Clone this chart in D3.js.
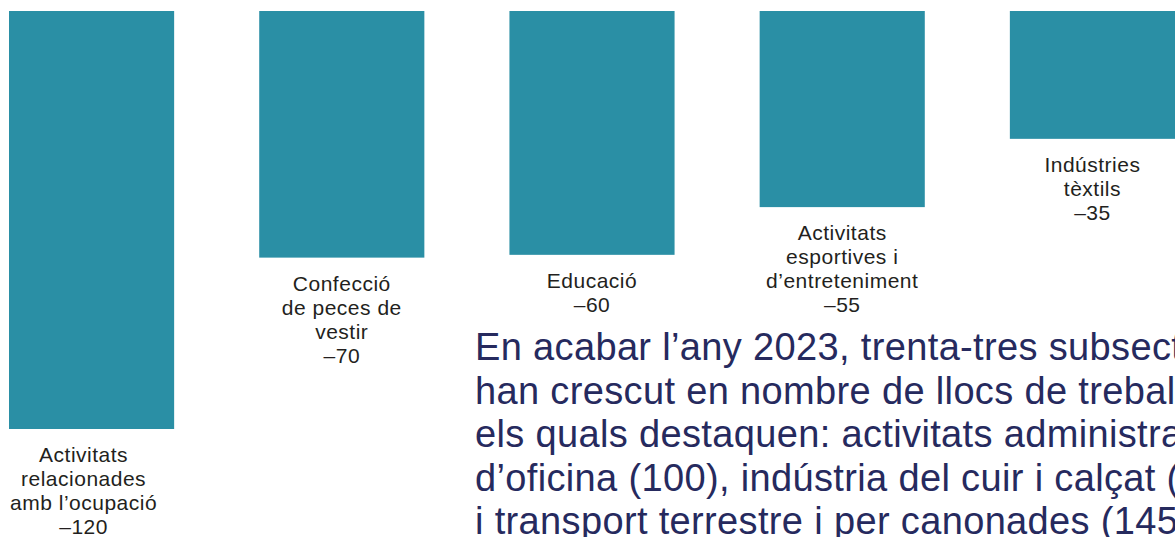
<!DOCTYPE html>
<html>
<head>
<meta charset="utf-8" />
<title>Subsectors</title>
<style>
    body { margin: 0; background: #fff; overflow: hidden; }
    svg { display: block; }
    .lbl { font-family: "Liberation Sans", Arial, sans-serif; font-size: 21px; letter-spacing: 0.5px; fill: #231f20; }
    .note { font-family: "Liberation Sans", Arial, sans-serif; font-size: 38px; letter-spacing: 0.35px; fill: #262a5e; }
</style>
</head>
<body>
<div id="container"></div>
<script src="https://cdn.jsdelivr.net/npm/d3@7"></script>
<script>
    // subsectors que han perdut llocs de treball
    const categories = ['relacionades', 'confeccio', 'educacio', 'esportives', 'textils']
    const labelLines = [
        ['Activitats', 'relacionades', 'amb l’ocupació'],
        ['Confecció', 'de peces de', 'vestir'],
        ['Educació'],
        ['Activitats', 'esportives i', 'd’entreteniment'],
        ['Indústries', 'tèxtils']
    ]
    // longitud de cada barra, llegida del dibuix
    const barValues = [120, 70.8, 70, 56.3, 36.7]
    // xifra impresa sota cada barra
    const labelValues = [-120, -70, -60, -55, -35]
    const noteLines = [
        'En acabar l’any 2023, trenta-tres subsectors',
        'han crescut en nombre de llocs de treball, entre',
        'els quals destaquen: activitats administratives',
        'd’oficina (100), indústria del cuir i calçat (',
        'i transport terrestre i per canonades (145)'
    ]

    const width = 1175
    const height = 537

    let svg = d3.select('#container').append('svg').attr('width', width).attr('height', height)

    let xScale = d3.scaleBand().domain(categories).range([9, 1175]).paddingInner(0.34).paddingOuter(0)
    let yScale = d3.scaleLinear().domain([0, 120]).range([11, 429])

    svg.selectAll('rect.bar').data(barValues).enter().append('rect')
        .attr('class', 'bar')
        .attr('x', (d, i) => xScale(categories[i]))
        .attr('y', yScale(0))
        .attr('width', xScale.bandwidth())
        .attr('height', d => yScale(d) - yScale(0))
        .attr('fill', '#2a8fa5')

    const fmt = v => (v < 0 ? '–' : '') + Math.abs(v)

    let labels = svg.selectAll('text.lbl').data(categories).enter().append('text')
        .attr('class', 'lbl')
        .attr('text-anchor', 'middle')
        .attr('transform', (d, i) => {
            let cx = xScale(d) + xScale.bandwidth() / 2 + (i === 0 ? -8 : 0)
            return `translate(${cx},${yScale(barValues[i]) + 33})`
        })

    labels.each(function(d, i) {
        let lines = labelLines[i].concat([fmt(labelValues[i])])
        d3.select(this).selectAll('tspan').data(lines).enter().append('tspan')
            .attr('x', 0)
            .attr('y', (l, j) => j * 24)
            .text(l => l)
    })

    svg.append('text').attr('class', 'note')
        .selectAll('tspan').data(noteLines).enter().append('tspan')
        .attr('x', 475)
        .attr('y', (l, j) => 360 + j * 43.5)
        .text(l => l)
</script>
</body>
</html>
